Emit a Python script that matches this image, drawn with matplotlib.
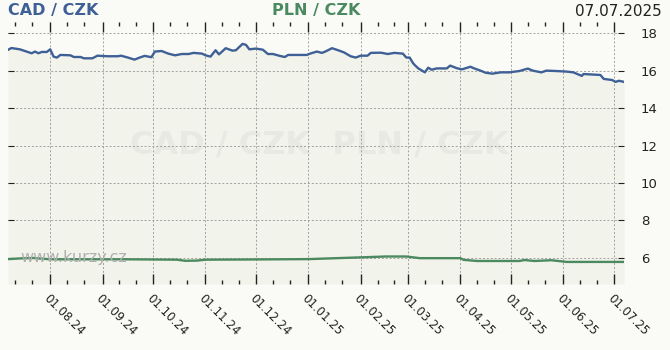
import pandas as pd
import matplotlib
matplotlib.use('Agg')
import matplotlib.pyplot as plt
import matplotlib.dates as mdates

# kurz CAD/CZK
cad_dates = ['2024-07-07', '2024-07-09', '2024-07-14', '2024-07-17', '2024-07-21', '2024-07-23',
             '2024-07-25', '2024-07-27', '2024-07-30', '2024-08-01', '2024-08-03', '2024-08-05',
             '2024-08-07', '2024-08-13', '2024-08-15', '2024-08-19', '2024-08-21', '2024-08-26',
             '2024-08-29', '2024-09-04', '2024-09-10', '2024-09-12', '2024-09-16', '2024-09-20',
             '2024-09-23', '2024-09-26', '2024-09-30', '2024-10-02', '2024-10-06', '2024-10-10',
             '2024-10-14', '2024-10-18', '2024-10-22', '2024-10-25', '2024-10-30', '2024-11-01',
             '2024-11-04', '2024-11-07', '2024-11-09', '2024-11-13', '2024-11-17', '2024-11-19',
             '2024-11-23', '2024-11-25', '2024-11-27', '2024-12-01', '2024-12-05', '2024-12-08',
             '2024-12-11', '2024-12-15', '2024-12-18', '2024-12-20', '2024-12-25', '2024-12-31',
             '2025-01-02', '2025-01-06', '2025-01-09', '2025-01-11', '2025-01-15', '2025-01-18',
             '2025-01-22', '2025-01-26', '2025-01-29', '2025-02-01', '2025-02-05', '2025-02-07',
             '2025-02-13', '2025-02-17', '2025-02-21', '2025-02-26', '2025-02-28', '2025-03-02',
             '2025-03-04', '2025-03-05', '2025-03-07', '2025-03-11', '2025-03-13', '2025-03-15',
             '2025-03-18', '2025-03-24', '2025-03-26', '2025-03-30', '2025-04-02', '2025-04-07',
             '2025-04-09', '2025-04-13', '2025-04-16', '2025-04-20', '2025-04-25', '2025-04-30',
             '2025-05-06', '2025-05-11', '2025-05-14', '2025-05-19', '2025-05-22', '2025-05-28',
             '2025-06-03', '2025-06-07', '2025-06-12', '2025-06-13', '2025-06-17', '2025-06-23',
             '2025-06-25', '2025-06-30', '2025-07-02', '2025-07-04', '2025-07-07']
cad_values = [17.11, 17.21, 17.14, 17.05, 16.93, 17.02,
              16.93, 17.00, 17.00, 17.14, 16.75, 16.70,
              16.84, 16.82, 16.73, 16.73, 16.66, 16.66,
              16.80, 16.77, 16.77, 16.80, 16.70, 16.59,
              16.70, 16.79, 16.72, 17.02, 17.05, 16.91,
              16.82, 16.89, 16.89, 16.95, 16.91, 16.82,
              16.75, 17.09, 16.87, 17.20, 17.07, 17.09,
              17.43, 17.38, 17.14, 17.18, 17.12, 16.89,
              16.89, 16.79, 16.73, 16.84, 16.84, 16.84,
              16.91, 17.02, 16.95, 17.02, 17.20, 17.11,
              16.98, 16.77, 16.70, 16.80, 16.80, 16.95,
              16.96, 16.89, 16.95, 16.91, 16.70, 16.70,
              16.40, 16.30, 16.13, 15.91, 16.16, 16.05,
              16.12, 16.12, 16.27, 16.13, 16.07, 16.21,
              16.13, 16.00, 15.89, 15.84, 15.91, 15.91,
              15.98, 16.11, 16.00, 15.91, 16.00, 15.98,
              15.95, 15.91, 15.72, 15.82, 15.80, 15.77,
              15.56, 15.50, 15.40, 15.46, 15.40]

# kurz PLN/CZK
pln_dates = ['2024-07-07', '2024-07-15', '2024-07-22', '2024-08-01', '2024-09-15', '2024-10-15',
             '2024-10-20', '2024-10-27', '2024-11-01', '2024-11-27', '2025-01-01', '2025-01-31',
             '2025-02-16', '2025-02-28', '2025-03-08', '2025-04-01', '2025-04-03', '2025-04-11',
             '2025-05-06', '2025-05-09', '2025-05-15', '2025-05-25', '2025-06-03', '2025-07-07']
pln_values = [5.93, 5.97, 5.99, 5.92, 5.92, 5.90,
              5.84, 5.85, 5.90, 5.91, 5.93, 6.02,
              6.07, 6.07, 5.98, 5.98, 5.89, 5.83,
              5.83, 5.88, 5.83, 5.87, 5.78, 5.78]

tick_dates = ['2024-08-01', '2024-09-01', '2024-10-01', '2024-11-01', '2024-12-01', '2025-01-01',
              '2025-02-01', '2025-03-01', '2025-04-01', '2025-05-01', '2025-06-01', '2025-07-01']
y_ticks = [6, 8, 10, 12, 14, 16, 18]

cad_x = pd.to_datetime(cad_dates)
pln_x = pd.to_datetime(pln_dates)
ymin, ymax = 4.6, 18.6

bg = '#fafbf6'
fig = plt.figure(figsize=(6.7, 3.5), dpi=100, facecolor=bg)
ax = fig.add_axes([8 / 670, 66 / 350, 616 / 670, 262 / 350])
ax.set_facecolor(bg)

ax.fill_between(cad_x, cad_values, ymin, color='#f2f3ea', zorder=0, linewidth=0)
ax.plot(cad_x, cad_values, color='#3e6096', linewidth=1.7, zorder=3)
ax.plot(pln_x, pln_values, color='#4b8a60', linewidth=1.7, zorder=3)

ax.set_xlim(pd.Timestamp('2024-07-07'), pd.Timestamp('2025-07-07'))
ax.set_ylim(ymin, ymax)

ax.set_xticks(pd.to_datetime(tick_dates))
ax.xaxis.set_major_formatter(mdates.DateFormatter('%d.%m.%y'))
ax.xaxis.set_minor_locator(mdates.DayLocator(bymonthday=[11, 21]))
ax.set_yticks(y_ticks)

ax.grid(True, which='major', color='#a0a0a0', linestyle=(0, (2, 2)), linewidth=0.7)
ax.tick_params(axis='x', which='both', direction='in', top=True, bottom=True,
               color='#222222', width=1, labelsize=8.5, labelcolor='#222222', pad=6)
ax.tick_params(axis='x', which='major', length=7)
ax.tick_params(axis='x', which='minor', length=3)
ax.tick_params(axis='y', direction='in', left=True, right=True, labelleft=False,
               labelright=True, length=4, color='#222222', labelsize=9.5,
               labelcolor='#222222', pad=12)
for lbl in ax.get_xticklabels():
    lbl.set_rotation(-45)
    lbl.set_ha('left')
    lbl.set_va('top')
    lbl.set_rotation_mode('anchor')
for s in ax.spines.values():
    s.set_visible(False)

# vodoznaky
ax.text(0.505, 0.53, 'CAD / CZK  PLN / CZK', transform=ax.transAxes, ha='center', va='center',
        fontsize=23, fontweight='bold', color='#e8e9e2', zorder=1)
ax.text(0.02, 0.1, 'www.kurzy.cz', transform=ax.transAxes, ha='left', va='center',
        fontsize=11.5, color='#b0b0b0', zorder=4)

# nadpisy
fig.text(8 / 670, 1 - 11 / 350, 'CAD / CZK', color='#3e6096', fontsize=11.5,
         fontweight='bold', ha='left', va='center')
fig.text(272 / 670, 1 - 11 / 350, 'PLN / CZK', color='#4b8a60', fontsize=11.5,
         fontweight='bold', ha='left', va='center')
fig.text(662 / 670, 1 - 11 / 350, '07.07.2025', color='#222222', fontsize=11,
         ha='right', va='center')

plt.savefig('out.png', dpi=100, facecolor=bg)
